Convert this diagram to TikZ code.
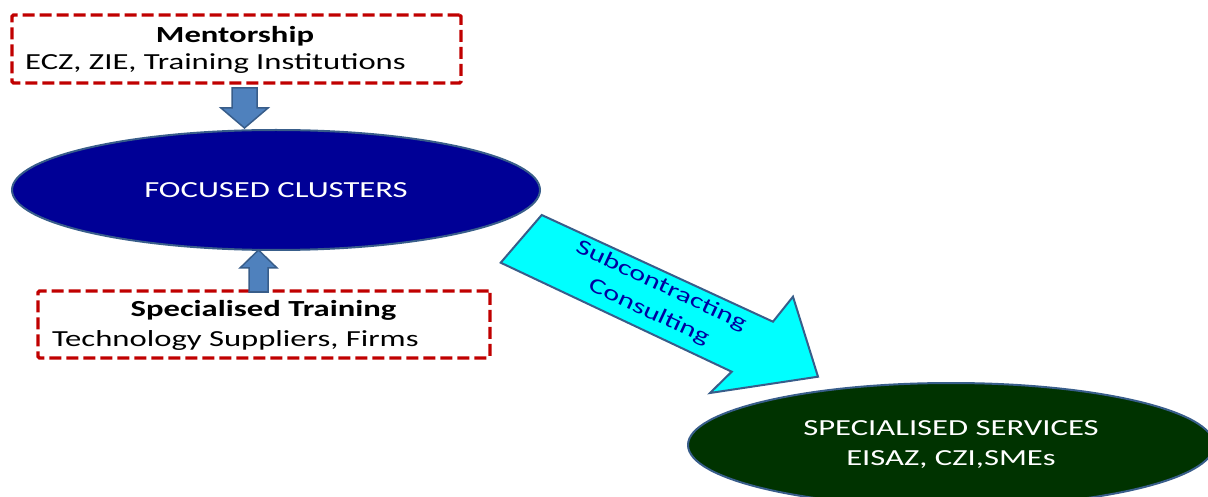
\documentclass[tikz,border=0pt]{standalone}
\usepackage{fontspec}
\setmainfont[FakeStretch=1.42]{Carlito}
\usetikzlibrary{shapes.geometric}
\definecolor{dred}{RGB}{192,0,0}
\definecolor{barrow}{RGB}{79,129,189}
\definecolor{bedge}{RGB}{56,93,138}
\definecolor{navyfill}{RGB}{0,0,150}
\definecolor{greenfill}{RGB}{0,51,0}
\definecolor{txtblue}{RGB}{0,0,160}
\definecolor{cyanfill}{RGB}{0,255,255}
\tikzset{
  dbox/.style={draw=dred, line width=3.3pt, dash pattern=on 12pt off 5pt, rectangle, rounded corners=1.5pt, inner sep=0pt},
  blockarrow/.style={fill=barrow, draw=bedge, line width=1.5pt, line join=miter},
  bigarrow/.style={fill=cyanfill, draw=bedge, line width=2pt, line join=miter},
  oval/.style={ellipse, draw=bedge, line width=2pt, inner sep=0pt, text=white, align=center},
  txt/.style={font=\fontsize{23}{27}\selectfont, inner sep=0pt},
}
\begin{document}
\begin{tikzpicture}[x=1pt,y=-1pt]
\useasboundingbox (0,0) rectangle (1208,497);
\clip (0,0) rectangle (1208,497);
% Mentorship box
\node[dbox, minimum width=449pt, minimum height=68pt] (ment) at (236.5,49) {};
\node[txt, font=\fontsize{23}{27}\selectfont\bfseries] (mentT) at (235,36) {Mentorship};
\node[txt, anchor=west] (mentS) at (25,64) {ECZ, ZIE, Training Institutions};
% Focused clusters ellipse
\node[oval, fill=navyfill, minimum width=528pt, minimum height=120pt, font=\fontsize{23}{27}\selectfont] (fc) at (276,190) {FOCUSED CLUSTERS};
% down arrow
\draw[blockarrow] (232,88) -- (257,88) -- (257,108) -- (268,108) -- (244.5,128) -- (221,108) -- (232,108) -- cycle;
% Specialised training box
\node[dbox, minimum width=452pt, minimum height=67pt] (st) at (264,324.5) {};
\node[txt, font=\fontsize{23}{27}\selectfont\bfseries] (stT) at (263.5,310) {Specialised Training};
\node[txt, anchor=west] (stS) at (52,340) {Technology Suppliers, Firms};
% up arrow
\draw[blockarrow] (249,292) -- (268,292) -- (268,268) -- (277,268) -- (258.5,250) -- (240,268) -- (249,268) -- cycle;
% Specialised services ellipse
\node[oval, fill=greenfill, minimum width=526pt, minimum height=124pt, font=\fontsize{23}{30}\selectfont] (ss) at (951,445) {SPECIALISED SERVICES\\EISAZ, CZI,SMEs};
% big cyan arrow
\draw[bigarrow] (500.7,262.7) -- (541.7,215) -- (773,321.7) -- (793,296.7) -- (818,376.7) -- (710,393) -- (731.7,371.7) -- cycle;
\node[rotate=-25, text=txtblue, align=center, inner sep=0pt, font=\fontsize{21.5}{29}\selectfont] (sc) at (655,299) {Subcontracting\\Consulting};
\end{tikzpicture}
\end{document}
